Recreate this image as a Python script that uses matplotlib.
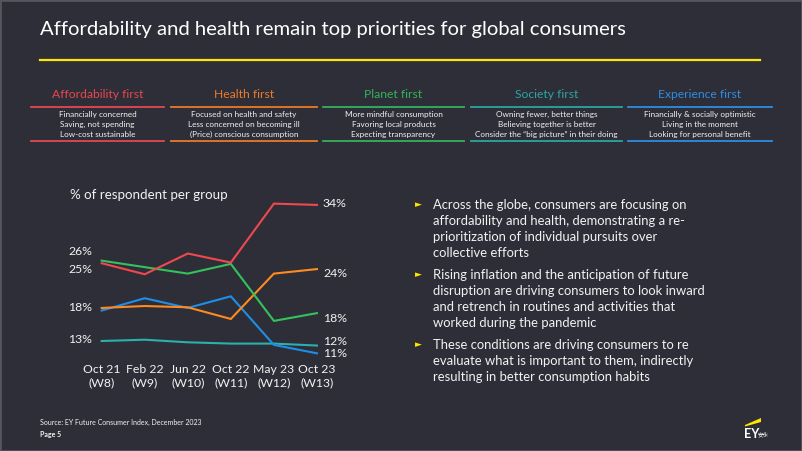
import matplotlib
matplotlib.use("Agg")
import matplotlib.pyplot as plt
from matplotlib.patches import Polygon, Rectangle

# ---- data ----
periods = ["Oct 21", "Feb 22", "Jun 22", "Oct 22", "May 23", "Oct 23"]
waves = ["(W8)", "(W9)", "(W10)", "(W11)", "(W12)", "(W13)"]

affordability = [25.0, 23.3, 26.5, 25.1, 34.2, 34.0]
health = [18.1, 18.4, 18.2, 16.4, 23.4, 24.1]
planet = [25.4, 24.4, 23.4, 24.9, 16.1, 17.3]
society = [13.0, 13.2, 12.8, 12.6, 12.6, 12.3]
experience = [17.7, 19.6, 18.1, 19.9, 12.4, 11.1]

left_labels = ["26%", "25%", "18%", "13%"]
right_labels = ["34%", "24%", "18%", "12%", "11%"]

groups = ["Affordability first", "Health first", "Planet first",
          "Society first", "Experience first"]
group_desc = [
    ["Financially concerned", "Saving, not spending", "Low-cost sustainable"],
    ["Focused on health and safety", "Less concerned on becoming ill",
     "(Price) conscious consumption"],
    ["More mindful consumption", "Favoring local products",
     "Expecting transparency"],
    ["Owning fewer, better things", "Believing together is better",
     "Consider the \u201cbig picture\u201d in their doing"],
    ["Financially & socially optimistic", "Living in the moment",
     "Looking for personal benefit"],
]

bullets = [
    ["Across the globe, consumers are focusing on",
     "affordability and health, demonstrating a re-",
     "prioritization of individual pursuits over",
     "collective efforts"],
    ["Rising inflation and the anticipation of future",
     "disruption are driving consumers to look inward",
     "and retrench in routines and activities that",
     "worked during the pandemic"],
    ["These conditions are driving consumers to re",
     "evaluate what is important to them, indirectly",
     "resulting in better consumption habits"],
]

# ---- style ----
BG = "#2e2e38"
YELLOW = "#ffe600"
TXT = "#f2f2f2"
line_colors = ["#f0484e", "#ff8a1f", "#35c15c", "#2bb0ac", "#1e8fe6"]
head_colors = ["#e8474f", "#ec7a28", "#33b35a", "#2aa6a2", "#2f8de2"]
FONT = "Lato"

W, H = 802, 451
fig = plt.figure(figsize=(W / 100, H / 100), dpi=100, facecolor=BG)


def fx(x):
    return x / W


def fy(y):
    return 1 - y / H


# slide border
fig.patches.append(Rectangle((0, 0), 1, 1, transform=fig.transFigure,
                             fill=False, edgecolor="#55555e", lw=2))

# title + yellow rule
fig.text(fx(40), fy(30), "Affordability and health remain top priorities for global consumers",
         color="white", fontsize=14.6, family=FONT, va="center")
fig.add_artist(plt.Line2D([fx(40), fx(760)], [fy(60), fy(60)],
                          color=YELLOW, lw=1.6, transform=fig.transFigure))

# segment header table
cols = [(31, 164), (171, 317), (323, 464), (471, 622), (628, 772)]
for (x0, x1), name, desc, c in zip(cols, groups, group_desc, head_colors):
    xc = (x0 + x1) / 2
    fig.text(fx(xc), fy(95), name, color=c, fontsize=8.7, family=FONT,
             ha="center", va="center")
    for yy in (106.5, 141):
        fig.add_artist(plt.Line2D([fx(x0), fx(x1)], [fy(yy), fy(yy)],
                                  color=c, lw=1.3, transform=fig.transFigure))
    for k, line in enumerate(desc):
        fig.text(fx(xc), fy(114.5 + 10 * k), line, color=TXT, fontsize=5.9,
                 family=FONT, ha="center", va="center")

# ---- line chart ----
ax = fig.add_axes([fx(58.6), fy(373.4), (360 - 58.6) / W, (373.4 - 179) / H])
ax.set_facecolor(BG)
ax.patch.set_alpha(0)
x = list(range(len(periods)))
series = [affordability, health, planet, society, experience]
# draw order like the reference (teal/blue underneath)
for idx in [3, 4, 1, 2, 0]:
    ax.plot(x, series[idx], color=line_colors[idx], lw=1.5, solid_joinstyle="miter")
ax.set_xlim(-1.0, 6.0)
ax.set_ylim(8, 38)
ax.axis("off")

lab_kw = dict(color=TXT, fontsize=8.8, family=FONT, va="center", clip_on=False)
left_y = [26.8, 24.1, 18.15, 13.3]
for lab, yy in zip(left_labels, left_y):
    ax.text(-0.22, yy, lab, ha="right", **lab_kw)
right_y = [34.15, 23.4, 16.4, 12.85, 11.0]
for lab, yy in zip(right_labels, right_y):
    ax.text(5.14, yy, lab, ha="left", **lab_kw)
for i, (p, w) in enumerate(zip(periods, waves)):
    ax.text(i, 8.55, p, ha="center", **lab_kw)
    ax.text(i, 6.55, w, ha="center", **lab_kw)
ax.text(-0.73, 35.5, "% of respondent per group", ha="left",
        **{**lab_kw, "fontsize": 9.6})

# ---- bullets ----
yy = 205
for para in bullets:
    fig.text(fx(418), fy(yy), "\u25ba", color=YELLOW, fontsize=6.5,
             family="DejaVu Sans", ha="center", va="center")
    for line in para:
        fig.text(fx(433), fy(yy), line, color=TXT, fontsize=9.4, family=FONT,
                 va="center")
        yy += 16
    yy += 6

# ---- footer ----
fig.text(fx(40), fy(422), "Source: EY Future Consumer Index, December 2023",
         color=TXT, fontsize=5, family=FONT, va="center")
fig.text(fx(40), fy(434), "Page 5", color=TXT, fontsize=5, family=FONT,
         va="center", fontweight="bold")

# EY logo
fig.patches.append(Polygon([(fx(745), fy(425)), (fx(761), fy(418)),
                            (fx(761), fy(422)), (fx(745), fy(426.5))],
                           closed=True, transform=fig.transFigure,
                           facecolor=YELLOW, edgecolor="none"))
fig.text(fx(744), fy(434), "EY", color="white", fontsize=9, family=FONT,
         fontweight="bold", va="center")
fig.text(fx(758), fy(436), "安永", color="white", fontsize=4,
         family=["Noto Sans CJK SC", "DejaVu Sans"], va="center")

fig.savefig("out.png", dpi=100, facecolor=BG)
